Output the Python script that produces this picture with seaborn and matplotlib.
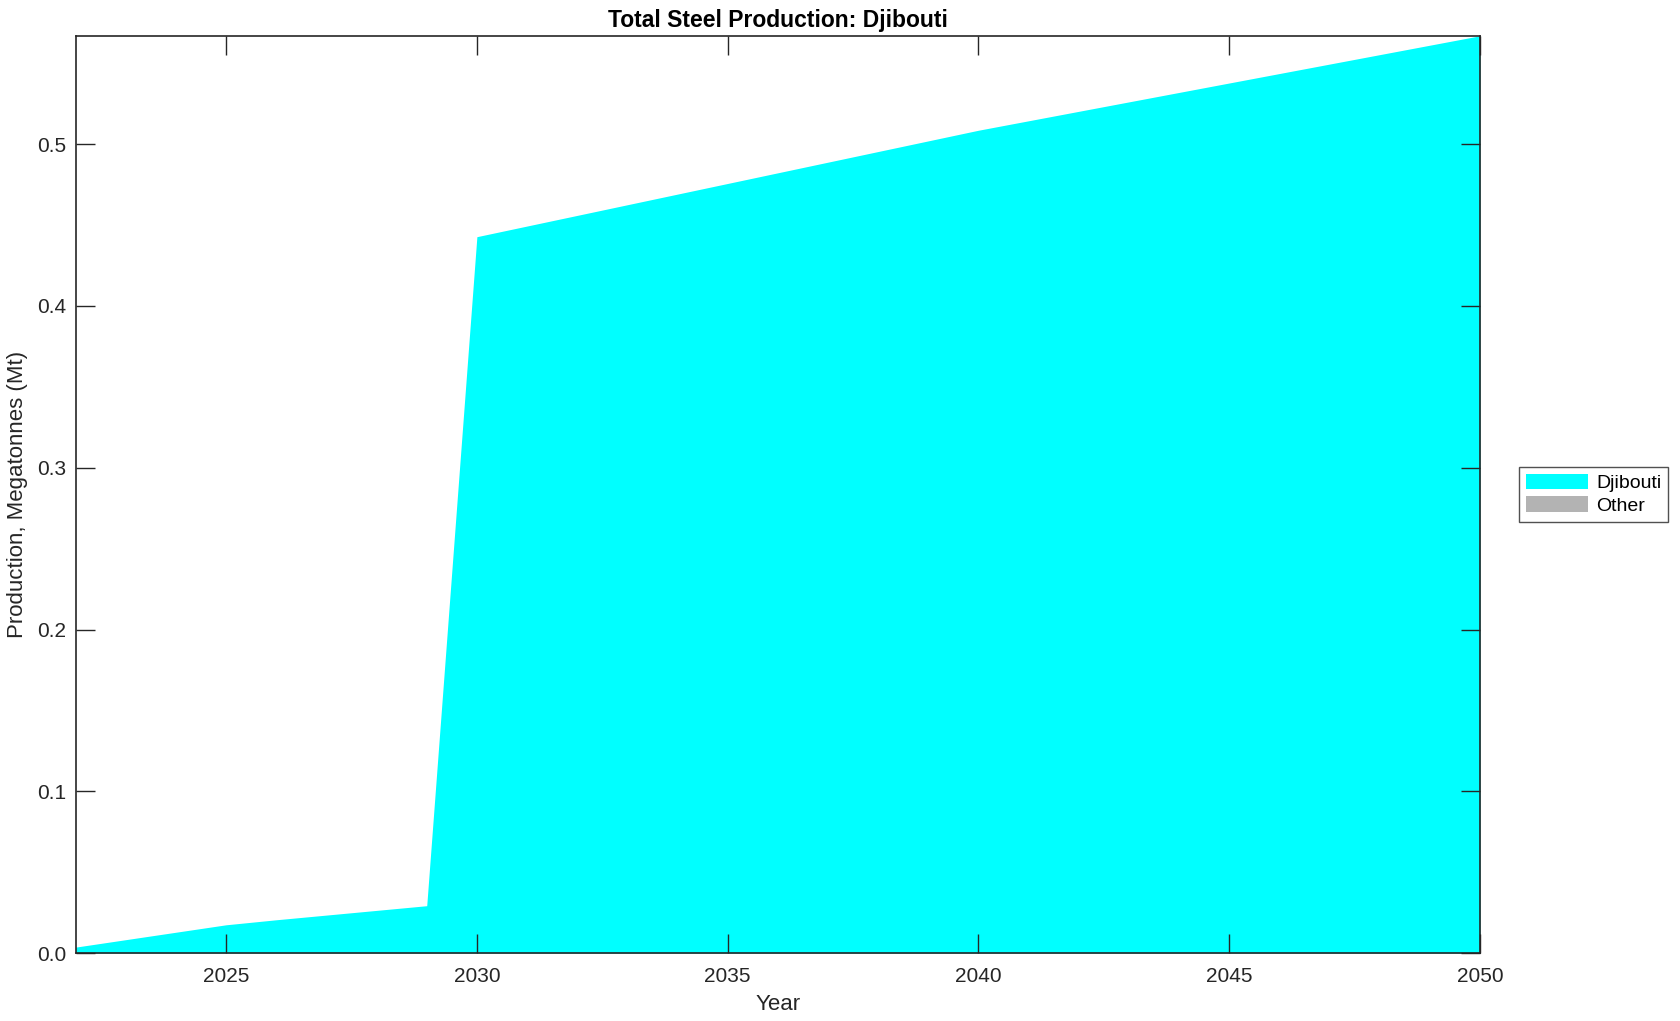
import matplotlib
matplotlib.use("Agg")
import matplotlib.pyplot as plt
import seaborn as sns
import pandas as pd
import numpy as np

# values (Mt)
years = [2022, 2025, 2026, 2029, 2030, 2040, 2050]
djibouti = [0.0037, 0.0175, 0.0206, 0.0293, 0.4428, 0.5086, 0.567]
other = [0.0, 0.0, 0.0, 0.0, 0.0, 0.0, 0.0]
series_names = ["Djibouti", "Other"]
series_colors = ["#00ffff", "#b3b3b3"]

df = pd.DataFrame({"Year": years, "Djibouti": djibouti, "Other": other})

sns.set_style("white")
plt.rcParams['font.family'] = ['Liberation Sans', 'DejaVu Sans']

fig = plt.figure(figsize=(16.8, 10.21), dpi=100)
ax = fig.add_axes([0.045, 0.0665, 0.836, 0.8985])

ax.stackplot(df["Year"], df["Djibouti"], df["Other"],
             labels=series_names, colors=series_colors, linewidth=0)
ax.set_axisbelow(False)

ax.set_xlim(2022, 2050)
ax.set_ylim(0, 0.567)
ax.set_xticks([2025, 2030, 2035, 2040, 2045, 2050])
ax.set_yticks([0.0, 0.1, 0.2, 0.3, 0.4, 0.5])
ax.set_yticklabels([f"{v:.1f}" for v in [0.0, 0.1, 0.2, 0.3, 0.4, 0.5]])
ax.tick_params(direction="in", length=14, width=1, top=True, right=True,
               bottom=True, left=True, labelsize=15, colors="#262626")
ax.tick_params(axis="x", pad=10)
ax.tick_params(axis="y", pad=7)
for s in ax.spines.values():
    s.set_linewidth(1.2)
    s.set_color("#262626")
    s.set_visible(True)
    s.set_zorder(5)

ax.set_xlabel("Year", fontsize=16, color="#262626", labelpad=6)
ax.set_ylabel("Production, Megatonnes (Mt)", fontsize=16, color="#262626", labelpad=6)
ax.set_title("Total Steel Production: Djibouti", fontsize=16.5, fontweight="bold",
             color="black", pad=6)

leg = ax.legend(loc="center left", bbox_to_anchor=(1.028, 0.5), fontsize=14,
                frameon=True, fancybox=False, edgecolor="#262626",
                handlelength=3.2, handleheight=0.85, borderpad=0.35,
                labelspacing=0.2, handletextpad=0.4, borderaxespad=0)
leg.get_frame().set_linewidth(1.0)
for t in leg.get_texts():
    t.set_color("black")

plt.savefig("out.png", dpi=100)
plt.close()
